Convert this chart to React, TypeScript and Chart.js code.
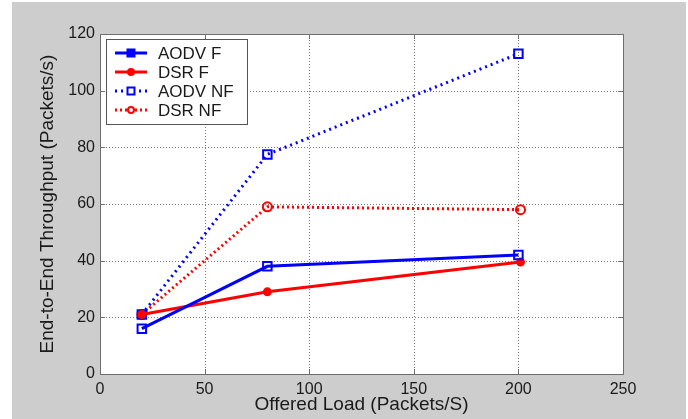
import React, { useEffect, useRef } from 'react';
import { Chart, registerables } from 'chart.js';
Chart.register(...registerables);

const loadAodv = [20, 80, 200];
const loadDsr = [20, 80, 201];
const aodvF = [16, 38, 42];
const dsrF = [21, 29, 39.5];
const aodvNF = [21, 77.5, 113];
const dsrNF = [21, 59, 58];
const xTicks = [0, 50, 100, 150, 200, 250];
const yTicks = [0, 20, 40, 60, 80, 100, 120];
const seriesNames = ['AODV F', 'DSR F', 'AODV NF', 'DSR NF'];

const BLUE = '#0000ff';
const RED = '#ff0000';
const FONT = '"Liberation Sans", Arial, Helvetica, sans-serif';
const TEXT = '#1a1a1a';

const pts = (xs: number[], ys: number[]) => xs.map((x, i) => ({ x, y: ys[i] }));

type Style = { color: string; dash: number[]; marker: 'rect' | 'circle'; r: number; fill: boolean };
const styles: Style[] = [
  { color: BLUE, dash: [], marker: 'rect', r: 6, fill: false },
  { color: RED, dash: [], marker: 'circle', r: 3.5, fill: true },
  { color: BLUE, dash: [2, 4], marker: 'rect', r: 6, fill: false },
  { color: RED, dash: [2, 3], marker: 'circle', r: 4.5, fill: false },
];

const framePlugin = {
  id: 'frame',
  beforeDraw(chart: any) {
    const { ctx, chartArea: a, scales } = chart;
    ctx.save();
    ctx.fillStyle = '#ffffff';
    ctx.fillRect(0, 0, chart.width, chart.height);
    ctx.fillStyle = '#cdcdcd';
    ctx.fillRect(12, 2, 674, 417);
    ctx.fillStyle = '#ffffff';
    ctx.fillRect(a.left, a.top, a.right - a.left, a.bottom - a.top);
    // grid
    ctx.strokeStyle = '#7a7a7a';
    ctx.lineWidth = 1;
    ctx.setLineDash([1, 2]);
    xTicks.forEach((t) => {
      const x = Math.round(scales.x.getPixelForValue(t)) + 0.5;
      if (x <= a.left + 1 || x >= a.right - 1) return;
      ctx.beginPath();
      ctx.moveTo(x, a.top);
      ctx.lineTo(x, a.bottom);
      ctx.stroke();
    });
    yTicks.forEach((t) => {
      const y = Math.round(scales.y.getPixelForValue(t)) + 0.5;
      if (y <= a.top + 1 || y >= a.bottom - 1) return;
      ctx.beginPath();
      ctx.moveTo(a.left, y);
      ctx.lineTo(a.right, y);
      ctx.stroke();
    });
    ctx.setLineDash([]);
    // box
    ctx.strokeStyle = '#6e6e6e';
    ctx.strokeRect(a.left + 0.5, a.top + 0.5, a.right - a.left, a.bottom - a.top);
    // inward ticks
    const tl = 5;
    ctx.beginPath();
    xTicks.forEach((t) => {
      const x = Math.round(scales.x.getPixelForValue(t)) + 0.5;
      ctx.moveTo(x, a.bottom);
      ctx.lineTo(x, a.bottom - tl);
      ctx.moveTo(x, a.top);
      ctx.lineTo(x, a.top + tl);
    });
    yTicks.forEach((t) => {
      const y = Math.round(scales.y.getPixelForValue(t)) + 0.5;
      ctx.moveTo(a.left, y);
      ctx.lineTo(a.left + tl, y);
      ctx.moveTo(a.right, y);
      ctx.lineTo(a.right - tl, y);
    });
    ctx.stroke();
    ctx.restore();
  },
};

function drawMarker(ctx: CanvasRenderingContext2D, s: Style, x: number, y: number, r: number) {
  ctx.setLineDash([]);
  ctx.lineWidth = 2;
  ctx.strokeStyle = s.color;
  ctx.fillStyle = s.fill ? s.color : '#ffffff';
  ctx.beginPath();
  if (s.marker === 'rect') {
    ctx.rect(x - r, y - r, 2 * r, 2 * r);
  } else {
    ctx.arc(x, y, r, 0, Math.PI * 2);
  }
  ctx.fill();
  ctx.stroke();
}

const legendPlugin = {
  id: 'customLegend',
  afterDraw(chart: any) {
    const { ctx } = chart;
    ctx.save();
    const bx = 106, by = 39, bw = 141, bh = 85;
    ctx.fillStyle = '#ffffff';
    ctx.fillRect(bx, by, bw, bh);
    ctx.strokeStyle = '#555555';
    ctx.lineWidth = 1;
    ctx.strokeRect(bx + 0.5, by + 0.5, bw, bh);
    seriesNames.forEach((name, i) => {
      const s = styles[i];
      const y = 53 + i * 19;
      ctx.strokeStyle = s.color;
      ctx.lineWidth = 3;
      ctx.setLineDash(s.dash);
      ctx.beginPath();
      ctx.moveTo(115, y);
      ctx.lineTo(147, y);
      ctx.stroke();
      const r = s.marker === 'rect' ? 3.5 : 3;
      const filled = i === 0 ? { ...s, fill: true } : s;
      drawMarker(ctx, filled, 131, y, r);
      ctx.fillStyle = TEXT;
      ctx.font = `17px ${FONT}`;
      ctx.textBaseline = 'middle';
      ctx.textAlign = 'left';
      ctx.fillText(name, 158, y + 1);
    });
    ctx.restore();
  },
};

export default function App() {
  const ref = useRef<HTMLCanvasElement>(null);
  useEffect(() => {
    const canvas = ref.current;
    if (!canvas) return;
    const seriesData = [pts(loadAodv, aodvF), pts(loadDsr, dsrF), pts(loadAodv, aodvNF), pts(loadDsr, dsrNF)];
    const chart = new Chart(canvas, {
      type: 'line',
      data: {
        datasets: seriesNames.map((name, i) => {
          const s = styles[i];
          return {
            label: name,
            data: seriesData[i],
            borderColor: s.color,
            borderWidth: 3,
            borderDash: s.dash,
            pointStyle: s.marker === 'rect' ? 'rect' : 'circle',
            pointRadius: s.r,
            pointBorderWidth: 2,
            pointBorderColor: s.color,
            pointBackgroundColor: s.fill ? s.color : 'rgba(255,255,255,0)',
            tension: 0,
            fill: false,
          };
        }),
      },
      options: {
        animation: false,
        responsive: false,
        maintainAspectRatio: false,
        layout: { padding: { left: 0, right: 65, top: 34, bottom: 0 } },
        plugins: { legend: { display: false }, tooltip: { enabled: false } },
        scales: {
          x: {
            type: 'linear',
            min: 0,
            max: 250,
            afterBuildTicks: (scale: any) => {
              scale.ticks = xTicks.map((v) => ({ value: v }));
            },
            afterFit: (scale: any) => {
              scale.height = 45;
            },
            grid: { display: false, drawTicks: false },
            border: { display: false },
            ticks: { padding: 6, color: TEXT, font: { size: 16, family: FONT }, maxRotation: 0 },
            title: {
              display: true,
              text: 'Offered Load (Packets/S)',
              color: TEXT,
              font: { size: 19, family: FONT },
              padding: { top: 0, bottom: 3 },
            },
          },
          y: {
            type: 'linear',
            min: 0,
            max: 120,
            afterBuildTicks: (scale: any) => {
              scale.ticks = yTicks.map((v) => ({ value: v }));
            },
            afterFit: (scale: any) => {
              scale.width = 100;
            },
            grid: { display: false, drawTicks: false },
            border: { display: false },
            ticks: { padding: 5, color: TEXT, font: { size: 16, family: FONT } },
            title: {
              display: true,
              text: 'End-to-End Throughput (Packets/s)',
              color: TEXT,
              font: { size: 19, family: FONT },
              padding: { top: 36, bottom: 0 },
            },
          },
        },
      },
      plugins: [framePlugin, legendPlugin],
    } as any);
    return () => chart.destroy();
  }, []);
  return (
    <div style={{ position: 'fixed', left: 0, top: 0, width: 688, height: 419 }}>
      <canvas ref={ref} width={688} height={419} style={{ display: 'block', width: 688, height: 419 }} />
    </div>
  );
}
